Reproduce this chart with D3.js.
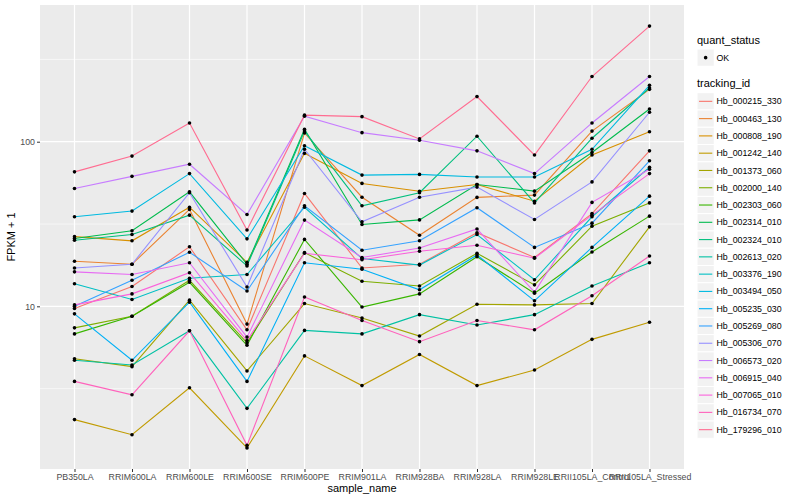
<!DOCTYPE html>
<html>
<head>
<meta charset="utf-8">
<script src="https://cdn.jsdelivr.net/npm/d3@7"></script>
<style>
  body { margin: 0; background: #fff; }
  text { font-family: "Liberation Sans", Arial, sans-serif; }
</style>
</head>
<body>
<svg id="chart" width="800" height="500"></svg>
<script>

// Sample names along the x axis.
const samples = ['PB350LA', 'RRIM600LA', 'RRIM600LE', 'RRIM600SE', 'RRIM600PE', 'RRIM901LA',
  'RRIM928BA', 'RRIM928LA', 'RRIM928LE', 'RRII105LA_Control', 'RRII105LA_Stressed'];

// FPKM + 1 per gene, one value per sample.
const hb000215 = [9.7, 13.2, 23, 7.2, 48.5, 17.1, 18, 28, 19.8, 36.6, 88];
const hb000463 = [18.8, 18, 38.8, 7.8, 113, 46, 27, 45.9, 47.4, 116, 208];
const hb000808 = [26.5, 25, 40, 18.5, 85, 55.8, 50, 55, 43.5, 83, 115];
const hb001242 = [2.05, 1.66, 3.2, 1.38, 5.0, 3.3, 5.1, 3.3, 4.1, 6.3, 8.0];
const hb001373 = [4.8, 4.3, 10.9, 4.05, 10.4, 8.5, 6.6, 10.3, 10.2, 10.4, 30.4];
const hb002000 = [7.4, 8.7, 14.4, 6.0, 21.2, 14.2, 13.3, 21, 13.5, 30.7, 42.5];
const hb002303 = [6.8, 8.7, 14.0, 5.8, 25.5, 9.9, 11.9, 20, 12.0, 21.4, 35.3];
const hb002314 = [25.8, 28.8, 49.6, 18, 119, 31.4, 33.5, 55, 50.1, 86, 158];
const hb002324 = [25.2, 27.3, 35.8, 17.6, 116, 40.8, 49, 108, 42.5, 105, 212];
const hb002613 = [4.7, 4.4, 7.1, 2.4, 7.14, 6.8, 8.9, 7.7, 8.9, 13.3, 18.4];
const hb003376 = [13.7, 11.0, 14.8, 15.6, 40, 19.5, 17.8, 27.3, 14.5, 35, 70];
const hb003494 = [35, 37.9, 64, 25.7, 94.5, 62.7, 63.3, 61, 61, 90, 220];
const hb005235 = [9.0, 4.7, 10.6, 3.5, 18.4, 16.8, 12.6, 20.5, 10.8, 22.8, 46.7];
const hb005269 = [10.0, 14.4, 21.3, 12.4, 40.8, 21.9, 25, 39.7, 22.8, 32, 76.6];
const hb005306 = [17.1, 18, 49, 13.1, 90, 32.6, 46, 53, 33.7, 57, 151];
const hb006573 = [52, 61.6, 73, 36.1, 143, 113.5, 102, 88, 64, 130, 249];
const hb006915 = [16.2, 15.6, 18.4, 6.5, 33.4, 19.8, 22.6, 29.5, 12.2, 42.8, 68];
const hb007065 = [10.2, 11.9, 16.0, 6.2, 21, 19.2, 21.6, 23.5, 19.6, 35.8, 64];
const hb016734 = [3.5, 2.9, 7.1, 1.43, 11.4, 8.2, 6.1, 8.2, 7.2, 11.6, 20.2];
const hb179296 = [65.6, 81.8, 130, 29.1, 145, 142, 104, 188, 83, 249, 504];

const trackingIds = ['Hb_000215_330', 'Hb_000463_130', 'Hb_000808_190', 'Hb_001242_140',
  'Hb_001373_060', 'Hb_002000_140', 'Hb_002303_060', 'Hb_002314_010', 'Hb_002324_010',
  'Hb_002613_020', 'Hb_003376_190', 'Hb_003494_050', 'Hb_005235_030', 'Hb_005269_080',
  'Hb_005306_070', 'Hb_006573_020', 'Hb_006915_040', 'Hb_007065_010', 'Hb_016734_070',
  'Hb_179296_010'];

const values = [hb000215, hb000463, hb000808, hb001242, hb001373, hb002000, hb002303,
  hb002314, hb002324, hb002613, hb003376, hb003494, hb005235, hb005269, hb005306,
  hb006573, hb006915, hb007065, hb016734, hb179296];

// Default ggplot hue palette for 20 groups.
const palette = ['#F8766D', '#EA8331', '#D89000', '#C09B00', '#A3A500', '#7CAE00', '#39B600',
  '#00BB4E', '#00BF7D', '#00C1A3', '#00BFC4', '#00BAE0', '#00B0F6', '#35A2FF', '#9590FF',
  '#C77CFF', '#E76BF3', '#FA62DB', '#FF62BC', '#FF6C91'];

const yMajor = [1, 10, 100, 1000];
const yMinor = [Math.sqrt(10), Math.sqrt(1000), Math.sqrt(100000)];

const series = trackingIds.map((id, i) => ({ id: id, color: palette[i], values: values[i] }));

const panel = { left: 40, right: 684, top: 5, bottom: 469 };
const svg = d3.select('#chart');

// Scales: discrete x with ggplot's 0.6 expansion, log y with 5% expansion.
const x = d3.scalePoint().domain(samples).range([panel.left, panel.right]).padding(0.6);

const all = values.flat();
let lo = Math.log10(d3.min(all)), hi = Math.log10(d3.max(all));
const pad = (hi - lo) * 0.05;
const y = d3.scaleLog().domain([10 ** (lo - pad), 10 ** (hi + pad)]).range([panel.bottom, panel.top]);
const inPanel = v => y(v) >= panel.top && y(v) <= panel.bottom;

// Panel background and grid.
svg.append('rect')
  .attr('x', panel.left).attr('y', panel.top)
  .attr('width', panel.right - panel.left).attr('height', panel.bottom - panel.top)
  .attr('fill', '#EBEBEB');

const grid = svg.append('g');
grid.selectAll('.minor').data(yMinor.filter(inPanel)).join('line')
  .attr('x1', panel.left).attr('x2', panel.right)
  .attr('y1', d => y(d)).attr('y2', d => y(d))
  .attr('stroke', '#fff').attr('stroke-width', 0.6);
grid.selectAll('.major').data(yMajor.filter(inPanel)).join('line')
  .attr('x1', panel.left).attr('x2', panel.right)
  .attr('y1', d => y(d)).attr('y2', d => y(d))
  .attr('stroke', '#fff').attr('stroke-width', 1.2);
grid.selectAll('.vx').data(samples).join('line')
  .attr('x1', d => x(d)).attr('x2', d => x(d))
  .attr('y1', panel.top).attr('y2', panel.bottom)
  .attr('stroke', '#fff').attr('stroke-width', 1.2);

// Lines, then black points on top.
const line = d3.line().x((d, i) => x(samples[i])).y(d => y(d));

svg.append('g').selectAll('path').data(series).join('path')
  .attr('d', d => line(d.values))
  .attr('fill', 'none')
  .attr('stroke', d => d.color)
  .attr('stroke-width', 1.1);

svg.append('g').selectAll('g').data(series).join('g')
  .selectAll('circle').data(d => d.values).join('circle')
  .attr('cx', (d, i) => x(samples[i]))
  .attr('cy', d => y(d))
  .attr('r', 1.8)
  .attr('fill', '#000');

// Axes.
const xAxis = svg.append('g').attr('transform', `translate(0,${panel.bottom})`)
  .call(d3.axisBottom(x).tickSize(3).tickPadding(2));
const yAxis = svg.append('g').attr('transform', `translate(${panel.left},0)`)
  .call(d3.axisLeft(y).tickValues(yMajor.filter(inPanel)).tickFormat(d3.format('d')).tickSize(3).tickPadding(2));

[xAxis, yAxis].forEach(a => {
  a.select('.domain').remove();
  a.selectAll('.tick line').attr('stroke', '#333');
  a.selectAll('.tick text').attr('fill', '#4D4D4D').style('font-size', '8.8px')
    .style('font-family', '"Liberation Sans", Arial, sans-serif');
});

svg.append('text')
  .attr('x', (panel.left + panel.right) / 2).attr('y', 492)
  .attr('text-anchor', 'middle').style('font-size', '11px')
  .text('sample_name');

svg.append('text')
  .attr('transform', `translate(15,${(panel.top + panel.bottom) / 2}) rotate(-90)`)
  .attr('text-anchor', 'middle').style('font-size', '11px')
  .text('FPKM + 1');

// Legends.
const key = 17.28;
const legend = svg.append('g').attr('transform', 'translate(697,0)');

legend.append('text').attr('x', 0).attr('y', 44).style('font-size', '11px').text('quant_status');
legend.append('rect').attr('x', 0).attr('y', 49).attr('width', key).attr('height', key)
  .attr('fill', '#F2F2F2').attr('stroke', '#fff');
legend.append('circle').attr('cx', key / 2).attr('cy', 49 + key / 2).attr('r', 1.8).attr('fill', '#000');
legend.append('text').attr('x', 19.5).attr('y', 49 + key / 2).attr('dy', '0.35em')
  .style('font-size', '8.8px').text('OK');

legend.append('text').attr('x', 0).attr('y', 87).style('font-size', '11px').text('tracking_id');

const items = legend.selectAll('.item').data(series).join('g')
  .attr('transform', (d, i) => `translate(0,${92.7 + i * key})`);
items.append('rect').attr('width', key).attr('height', key)
  .attr('fill', '#F2F2F2').attr('stroke', '#fff');
items.append('line').attr('x1', 2).attr('x2', key - 2)
  .attr('y1', key / 2).attr('y2', key / 2)
  .attr('stroke', d => d.color).attr('stroke-width', 1.1);
items.append('text').attr('x', 19.5).attr('y', key / 2).attr('dy', '0.35em')
  .style('font-size', '8.8px').text(d => d.id);

</script>
</body>
</html>
